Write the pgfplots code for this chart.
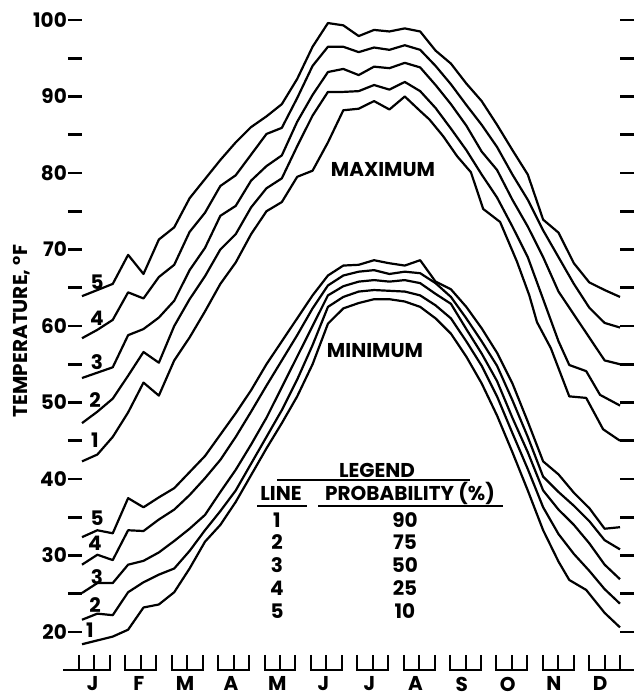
\documentclass[border=0pt]{standalone}
\usepackage{pgfplots}
\pgfplotsset{compat=1.18}
\usepackage{fontspec}
\setmainfont{Poppins}
\begin{document}
\fontsize{20}{24}\selectfont\bfseries
\begin{tikzpicture}[x=1pt,y=1pt]
\useasboundingbox (0,0) rectangle (641,698);
\begin{axis}[
  at={(82pt,66pt)}, anchor=south west,
  scale only axis, width=538pt, height=612pt,
  xmin=0, xmax=35, ymin=20, ymax=100,
  axis line style={draw=none},
  clip=false,
  ytick={20,25,...,100},
  yticklabels={20,,30,,40,,50,,60,,70,,80,,90,,100},
  ytick pos=both, yticklabel pos=left,
  tick align=outside,
  major tick length=14pt,
  y tick style={black, line width=2.6pt},
  x tick style={draw=none},
  xtick={0.7,3.7,6.7,9.7,12.7,15.7,18.7,21.7,24.7,27.7,30.7,33.7},
  xticklabels={J,F,M,A,M,J,J,A,S,O,N,D},
  xticklabel style={yshift=-24pt},
  yticklabel style={inner xsep=1pt},
  /pgf/number format/assume math mode=true,
  crv/.style={black, line width=2.2pt, line join=round, mark=none},
]
% ---- MAXIMUM (lines 5,4,3,2,1) ----
\addplot[crv] coordinates {(0,63.9)(1,64.7)(2,65.5)(3,69.3)(4,66.8)(5,71.3)(6,72.9)(7,76.7)(8,79.2)(9,81.7)(10,84.0)(11,86.0)(12,87.4)(13,89.0)(14,92.3)(15,96.5)(16,99.6)(17,99.3)(18,97.9)(19,98.7)(20,98.5)(21,98.9)(22,98.5)(23,96.0)(24,94.3)(25,91.7)(26,89.4)(27,86.3)(28,83.0)(29,79.8)(30,73.9)(31,72.2)(32,68.2)(33,65.7)(34,64.7)(35,63.8)};
\addplot[crv] coordinates {(0,58.4)(1,59.5)(2,60.8)(3,64.4)(4,63.6)(5,66.4)(6,68.0)(7,72.3)(8,74.8)(9,78.3)(10,79.7)(11,82.4)(12,85.1)(13,85.9)(14,89.8)(15,94.0)(16,96.5)(17,96.5)(18,95.8)(19,96.4)(20,96.1)(21,96.7)(22,96.1)(23,94.0)(24,91.6)(25,88.9)(26,86.3)(27,83.4)(28,79.8)(29,76.5)(30,72.5)(31,69.0)(32,65.5)(33,62.4)(34,60.4)(35,59.8)};
\addplot[crv] coordinates {(0,53.2)(1,53.9)(2,54.6)(3,58.8)(4,59.6)(5,61.1)(6,63.3)(7,67.3)(8,70.2)(9,74.4)(10,75.7)(11,79.0)(12,80.9)(13,82.3)(14,86.7)(15,90.2)(16,93.2)(17,93.6)(18,92.8)(19,93.9)(20,93.7)(21,94.4)(22,93.8)(23,91.5)(24,89.0)(25,86.2)(26,82.8)(27,80.4)(28,76.5)(29,73.0)(30,69.0)(31,64.5)(32,61.5)(33,58.5)(34,55.5)(35,55.0)};
\addplot[crv] coordinates {(0,47.3)(1,48.8)(2,50.5)(3,53.5)(4,56.6)(5,55.2)(6,60.0)(7,63.5)(8,66.5)(9,70.0)(10,72.0)(11,75.5)(12,78.0)(13,79.3)(14,83.5)(15,87.5)(16,90.6)(17,90.6)(18,90.7)(19,91.5)(20,90.9)(21,91.9)(22,90.7)(23,88.5)(24,85.8)(25,83.0)(26,79.8)(27,76.8)(28,73.0)(29,69.0)(30,63.5)(31,58.0)(31.7,54.9)(32.8,54.1)(33.7,51.0)(35,49.6)};
\addplot[crv] coordinates {(0,42.3)(1,43.2)(2,45.5)(3,48.7)(4,52.6)(5,50.9)(6,55.5)(7,58.5)(8,61.9)(9,65.5)(10,68.3)(11,72.0)(12,75.0)(13,76.2)(14,79.5)(15,80.3)(16,84.0)(17,88.2)(18,88.4)(19,89.4)(20,88.3)(21,90.0)(22,88.1)(22.6,87.0)(23.5,84.8)(24.4,82.2)(25.3,80.1)(26.1,75.3)(27.2,73.6)(28.3,68.4)(29.1,64.0)(29.6,60.5)(30.5,57.1)(31.7,50.8)(32.8,50.6)(33.9,46.5)(35,45.0)};
% ---- MINIMUM (lines 5,4,3,2,1) ----
\addplot[crv] coordinates {(0,32.4)(1,33.3)(2,32.9)(3,37.5)(4,36.3)(5,37.6)(6,38.8)(7,40.9)(8,43.0)(9,45.8)(10,48.6)(11,51.6)(12,55.0)(13,58.0)(14,61.0)(15,64.0)(16,66.6)(17,67.9)(18,68.0)(19,68.6)(20,68.2)(21,67.9)(22,68.6)(23,65.8)(24,64.8)(25,62.5)(26,59.7)(27,56.5)(28,52.5)(29,47.5)(30,42.3)(31,40.6)(32,38.2)(33,36.2)(34,33.5)(35,33.7)};
\addplot[crv] coordinates {(0,28.8)(1,30.1)(2,29.4)(3,33.3)(4,33.2)(5,34.7)(6,36.0)(7,37.9)(8,40.1)(9,42.5)(10,45.5)(11,48.8)(12,52.2)(13,55.5)(14,58.8)(15,62.3)(16,65.3)(17,66.6)(18,67.1)(19,67.3)(20,66.8)(21,67.1)(22,66.9)(23,65.6)(24,63.8)(25,61.0)(26,58.0)(27,54.8)(28,50.3)(29,45.5)(30,40.3)(31,38.3)(32,36.5)(33,34.5)(34,32.0)(35,30.8)};
\addplot[crv] coordinates {(0,25.1)(1,26.4)(2,26.4)(3,28.8)(4,29.3)(5,30.4)(6,31.9)(7,33.5)(8,35.3)(9,38.3)(10,41.2)(11,44.5)(12,48.0)(13,52.0)(14,56.0)(15,60.0)(16,64.0)(17,65.2)(18,65.8)(19,66.0)(20,65.8)(21,66.0)(22,65.6)(23,64.2)(24,62.9)(25,59.6)(26,56.4)(27,52.8)(28,48.0)(29,43.5)(30,38.5)(31,36.0)(32,34.0)(33,31.6)(34,28.8)(35,26.9)};
\addplot[crv] coordinates {(0,21.6)(1,22.4)(2,22.2)(3,25.2)(4,26.5)(5,27.5)(6,28.3)(7,30.6)(8,33.3)(9,35.8)(10,38.5)(11,42.0)(12,45.5)(13,49.0)(14,53.0)(15,57.5)(16,62.5)(17,63.8)(18,64.5)(19,64.7)(20,64.6)(21,64.5)(22,64.0)(23,62.7)(24,61.0)(25,58.0)(26,54.8)(27,50.8)(28,46.0)(29,41.3)(30,36.3)(31,32.8)(32,30.2)(33,28.0)(34,25.6)(35,23.7)};
\addplot[crv] coordinates {(0,18.4)(1,18.9)(2,19.4)(3,20.3)(4,23.2)(5,23.6)(6,25.2)(7,28.3)(8,31.8)(9,34.0)(10,37.0)(11,40.5)(12,44.0)(13,47.3)(14,50.8)(15,55.0)(16,60.3)(17,62.3)(18,63.0)(19,63.5)(20,63.5)(21,63.2)(22,62.5)(23,61.0)(24,59.0)(25,56.0)(26,52.5)(27,48.3)(28,43.5)(29,38.5)(30,33.3)(31,29.2)(31.7,26.8)(32.8,25.5)(34,22.5)(35,20.6)};
\end{axis}
% month brackets
\foreach \m in {0,...,11}{
  \pgfmathsetmacro{\xa}{79+15.46*3*\m}
  \pgfmathsetmacro{\xb}{79+15.46*(3*\m+1)}
  \pgfmathsetmacro{\xc}{79+15.46*(3*\m+2)}
  \draw[line width=2pt] (\xa,43) -- (\xa,28) -- (\xc,28) -- (\xc,43);
  \draw[line width=2pt] (\xb,28) -- (\xb,43);
}
\draw[line width=2pt] (63,28) -- (79,28);
\draw[line width=2pt] (620,28) -- (634,28);
% curve numbers
\foreach \n/\px/\py in {5/97/282,4/97/318,3/97/362,2/95/400,1/95/440,5/97/518,4/95/543,3/97/577,2/95/605,1/90/630}{
  \node at (\px,698-\py) {\n};
}
\node at (383,528) {MAXIMUM};
\node at (375,347) {MINIMUM};
\node[rotate=90] at (22,367) {TEMPERATURE, °F};
% legend
\node at (377,228) {LEGEND};
\draw[line width=2pt] (277,218) -- (470,218);
\node at (281,205) {LINE};
\draw[line width=2pt] (257,192) -- (307,192);
\node at (410,205) {PROBABILITY (\%)};
\draw[line width=2pt] (318,192) -- (503,192);
\foreach \a/\b/\yy in {1/90/178,2/75/156,3/50/133,4/25/110,5/10/87}{
  \node at (277,\yy) {\a};
  \node at (405,\yy) {\b};
}
\end{tikzpicture}
\end{document}
